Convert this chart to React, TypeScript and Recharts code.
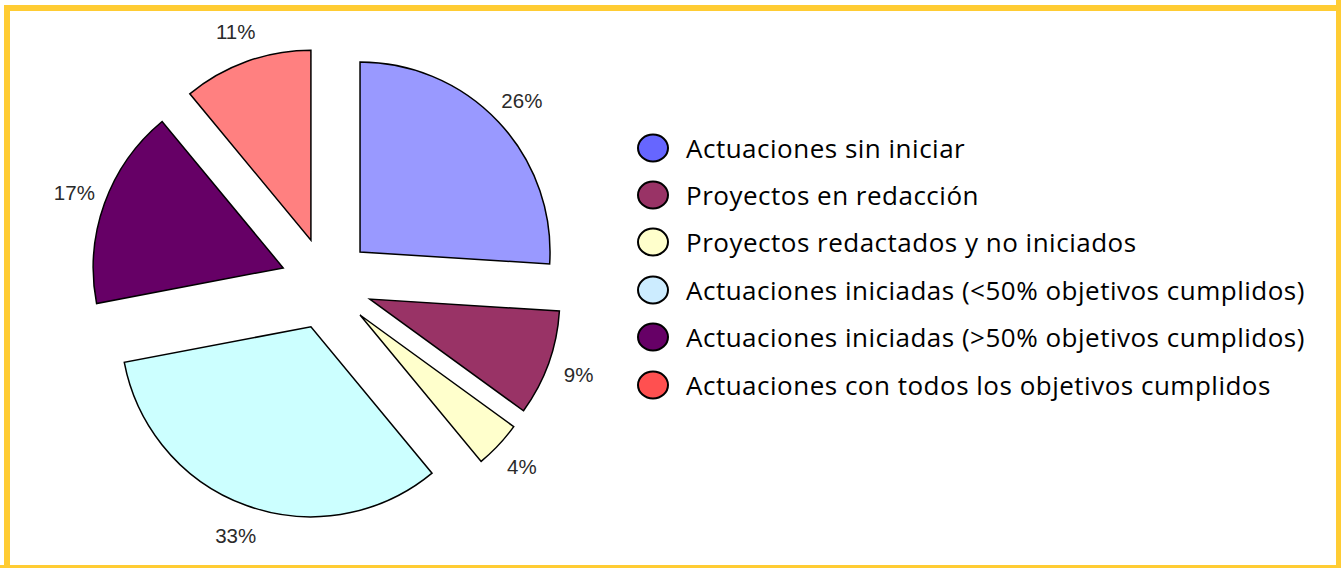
import React from 'react';
import { PieChart, Pie, Cell, Legend } from 'recharts';

const categories = [
  'Actuaciones sin iniciar',
  'Proyectos en redacción',
  'Proyectos redactados y no iniciados',
  'Actuaciones iniciadas (<50% objetivos cumplidos)',
  'Actuaciones iniciadas (>50% objetivos cumplidos)',
  'Actuaciones con todos los objetivos cumplidos',
];
const values = [26, 9, 4, 33, 17, 11];
const sliceColors = ['#9999FF', '#993366', '#FFFFCC', '#CCFFFF', '#660066', '#FF8080'];
const legendColors = ['#6666FF', '#993366', '#FFFFCC', '#CCECFF', '#660066', '#FF5050'];

const data = categories.map((name, i) => ({ name, value: values[i] }));

const W = 1341;
const H = 568;
const CX = 326.5;
const CY = 283.5;
const R = 190;
const EXPLODE = 46;
const LABEL_GAP = 32;

const total = values.reduce((a, b) => a + b, 0);
const offsets = values.map((v, i) => {
  const before = values.slice(0, i).reduce((a, b) => a + b, 0);
  const mid = ((before + v / 2) / total) * 2 * Math.PI;
  return { dx: EXPLODE * Math.sin(mid), dy: -EXPLODE * Math.cos(mid) };
});

const makeLabel = (only: number) => (props: any) => {
  const { index, cx, cy, midAngle, outerRadius, percent } = props;
  if (index !== only) return null;
  const rad = (Math.PI / 180) * midAngle;
  const r = outerRadius + LABEL_GAP;
  const x = cx + r * Math.cos(rad);
  const y = cy - r * Math.sin(rad);
  return (
    <text
      x={x}
      y={y}
      textAnchor="middle"
      dominantBaseline="central"
      fill="#2a2a2a"
      fontFamily="Liberation Sans, Arial, sans-serif"
      fontSize={20.5}
    >
      {`${Math.round(percent * 100)}%`}
    </text>
  );
};

const LegendContent = () => (
  <div style={{ fontFamily: '"Open Sans", sans-serif', fontSize: 26, letterSpacing: 0.5, color: '#000' }}>
    {categories.map((c, i) => (
      <div key={c} style={{ display: 'flex', alignItems: 'center', height: 47.4 }}>
        <svg width={34} height={30} style={{ flex: 'none' }}>
          <ellipse cx={17} cy={15} rx={15} ry={13.5} fill={legendColors[i]} stroke="#000" strokeWidth={2} />
        </svg>
        <span style={{ marginLeft: 16, whiteSpace: 'nowrap' }}>{c}</span>
      </div>
    ))}
  </div>
);

export default function App() {
  return (
    <div style={{ position: 'absolute', left: 0, top: 0, width: W, height: H, background: '#fff', overflow: 'hidden' }}>
      <div
        style={{
          position: 'absolute',
          left: 4,
          top: 5,
          width: W,
          height: H,
          border: '6px solid #FFCC33',
          boxSizing: 'border-box',
        }}
      />
      <div
        style={{
          position: 'absolute',
          left: 1336,
          top: 0,
          width: 5,
          height: H,
          background: '#FFCC33',
        }}
      />
      <div
        style={{
          position: 'absolute',
          left: 0,
          top: 565,
          width: W,
          height: 3,
          background: '#FFCC33',
        }}
      />
      <div style={{ position: 'absolute', left: 0, top: 0 }}>
        <PieChart width={W} height={H} margin={{ top: 0, right: 0, bottom: 0, left: 0 }}>
          {values.map((_, k) => (
            <Pie
              key={k}
              data={data}
              dataKey="value"
              nameKey="name"
              cx={CX + offsets[k].dx}
              cy={CY + offsets[k].dy}
              innerRadius={0}
              outerRadius={R}
              startAngle={90}
              endAngle={-270}
              isAnimationActive={false}
              labelLine={false}
              label={makeLabel(k)}
            >
              {data.map((d, i) => (
                <Cell
                  key={d.name}
                  fill={i === k ? sliceColors[i] : 'none'}
                  stroke={i === k ? '#000' : 'none'}
                  strokeWidth={1.5}
                />
              ))}
            </Pie>
          ))}
          <Legend
            content={<LegendContent />}
            wrapperStyle={{ position: 'absolute', left: 636, top: 124, width: 700, height: 290 }}
          />
        </PieChart>
      </div>
    </div>
  );
}
